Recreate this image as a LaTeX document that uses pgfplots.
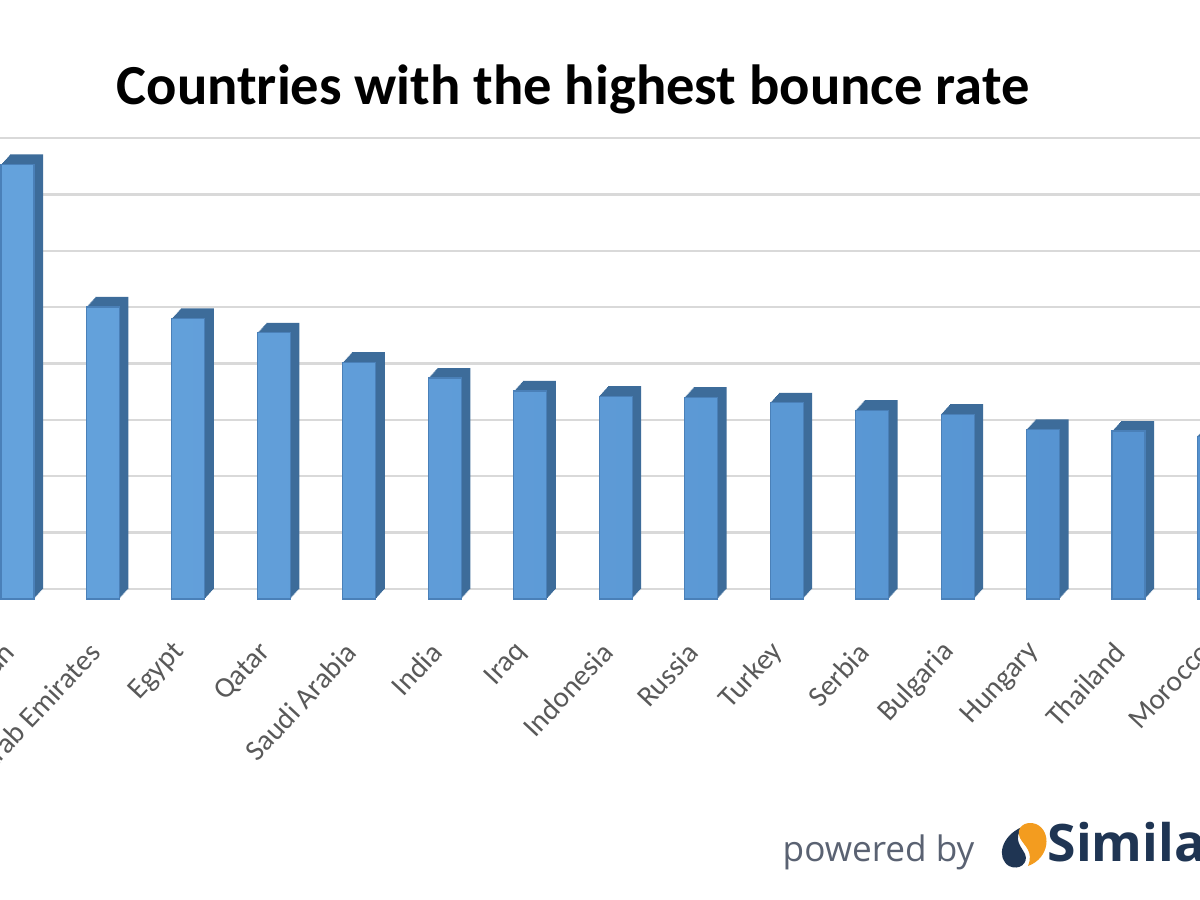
\documentclass[border=0pt]{standalone}
\usepackage{pgfplots}
\pgfplotsset{compat=1.18}
\usepackage{pgfplotstable}
\usepackage{fontspec}
\setmainfont{Carlito}
\newfontfamily\logofont{Open Sans}
\definecolor{barfront}{HTML}{5592D0}
\definecolor{barfrontL}{HTML}{64A2DC}
\definecolor{barside}{HTML}{3D6C9A}
\definecolor{baredge}{HTML}{4A80B8}
\definecolor{gridc}{HTML}{D9D9D9}
\definecolor{labc}{HTML}{595959}
\definecolor{navy}{HTML}{1F3553}
\definecolor{orng}{HTML}{F39C1F}
\definecolor{powc}{HTML}{5A6272}

\pgfplotstableread{
x v
0 77.1
1 51.8
2 49.8
3 47.2
4 42.0
5 39.2
6 36.9
7 36.0
8 35.8
9 34.8
10 33.5
11 32.8
12 30.1
13 29.8
14 28.9
}\bounce

\begin{document}
\begin{tikzpicture}
\useasboundingbox (0,0) rectangle (12cm,9cm);
\clip (0,0) rectangle (12cm,9cm);
\fill[white] (0,0) rectangle (12cm,9cm);
\begin{axis}[
  at={(-0.162cm,3.11cm)}, anchor=south west,
  scale only axis, width=12.819cm, height=4.51cm,
  xmin=-0.5, xmax=14.5, ymin=0, ymax=80,
  clip=false,
  axis line style={draw=none},
  major tick length=0pt,
  ytick={0,10,...,80}, yticklabels={},
  ymajorgrids, grid style={gridc, line width=0.65pt},
  xtick={0,...,14},
  xticklabels={Jordan,United Arab Emirates,Egypt,Qatar,Saudi Arabia,India,Iraq,Indonesia,Russia,Turkey,Serbia,Bulgaria,Hungary,Thailand,Morocco},
  xticklabel style={xshift=-0.17cm, yshift=-0.58cm, rotate=47, anchor=east, inner sep=0pt, font=\fontsize{8.3}{10}\selectfont, text=labc},
]
\pgfplotsinvokeforeach{0,...,9}{
  \addplot[ybar, bar width=3.3mm, bar shift=0pt, fill=barside, draw=none, xshift={-#1*0.1mm}, yshift={-#1*0.11mm}] table[x=x,y=v]{\bounce};
}
\addplot[ybar, bar width=3.3mm, bar shift=0pt, left color=barfrontL, right color=barfront, draw=baredge, line width=0.3pt, xshift=-0.9mm, yshift=-1.0mm] table[x=x,y=v]{\bounce};
\end{axis}
\node[anchor=base, inner sep=0pt, font=\fontsize{16.1}{19}\selectfont\bfseries] at (5.73cm,7.95cm) {Countries with the highest bounce rate};
\node[anchor=base west, inner sep=0pt, font=\logofont\fontsize{10}{12}\selectfont, text=powc] at (7.82cm,0.38cm) {powered by};
\node[anchor=base west, inner sep=0pt, font=\logofont\bfseries\fontsize{14.7}{17}\selectfont, text=navy] at (10.47cm,0.38cm) {Similarweb};
\begin{scope}[shift={(0,9cm)}, x=0.1mm, y=-0.1mm]
  \fill[navy] (1022,827) .. controls (1001,836) and (996,858) .. (1009,866) .. controls (1019,871) and (1029,863) .. (1025,854) .. controls (1021,846) and (1013,840) .. cycle;
  \fill[orng] (1028,866) .. controls (1050,858) and (1052,831) .. (1036,824) .. controls (1025,820) and (1015,828) .. (1020,838) .. controls (1024,846) and (1034,851) .. cycle;
\end{scope}
\end{tikzpicture}
\end{document}
